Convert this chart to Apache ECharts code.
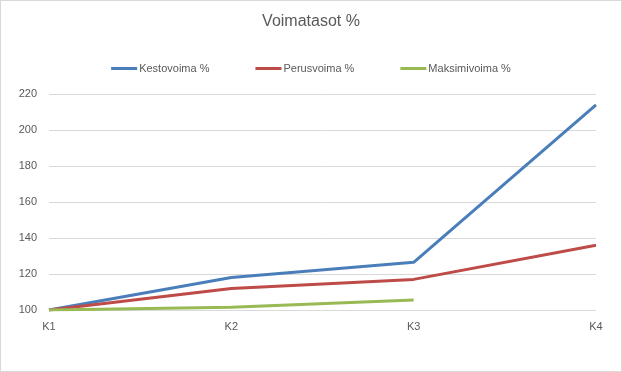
<!DOCTYPE html>
<html>
<head>
<meta charset="utf-8">
<script src="https://cdn.jsdelivr.net/npm/echarts@6/dist/echarts.min.js"></script>
<style>
html,body{margin:0;padding:0;background:#fff;}
#c{width:620px;height:370px;border:1px solid #d9d9d9;}
</style>
</head>
<body>
<div id="c"></div>
<script>
const categories = ['K1', 'K2', 'K3', 'K4'];
const kestovoima = [100, 118, 126.5, 214];
const perusvoima = [100, 112, 117, 136];
const maksimivoima = [100, 101.5, 105.5, null];
const seriesNames = ['Kestovoima %', 'Perusvoima %', 'Maksimivoima %'];
const colors = ['#4a7ebb', '#be4b48', '#98b954'];

const chart = echarts.init(document.getElementById('c'));
const font = 'Liberation Sans, Arial, sans-serif';
chart.setOption({
  animation: false,
  color: colors,
  title: {
    text: 'Voimatasot %',
    left: 'center',
    top: 8,
    textStyle: {fontFamily: font, fontSize: 16, fontWeight: 'normal', color: '#595959'}
  },
  legend: {
    top: 57,
    left: 'center',
    itemWidth: 26,
    itemHeight: 3,
    itemGap: 46,
    icon: 'rect',
    data: seriesNames,
    textStyle: {fontFamily: font, fontSize: 11, color: '#595959', padding: [0,0,0,-3]}
  },
  grid: {left: 48, right: 25, top: 93, bottom: 61},
  xAxis: {
    type: 'category',
    data: categories,
    boundaryGap: false,
    axisLine: {show: false},
    axisTick: {show: false},
    axisLabel: {fontFamily: font, fontSize: 11, color: '#595959', margin: 11}
  },
  yAxis: {
    type: 'value',
    min: 100, max: 220, interval: 20,
    axisLine: {show: false},
    axisTick: {show: false},
    splitLine: {lineStyle: {color: '#d9d9d9', width: 1}},
    axisLabel: {fontFamily: font, fontSize: 11, color: '#595959', margin: 12}
  },
  series: [
    {name: seriesNames[0], type: 'line', data: kestovoima, symbol: 'none', lineStyle: {width: 3}},
    {name: seriesNames[1], type: 'line', data: perusvoima, symbol: 'none', lineStyle: {width: 3}},
    {name: seriesNames[2], type: 'line', data: maksimivoima, symbol: 'none', lineStyle: {width: 3}}
  ]
});
</script>
</body>
</html>
